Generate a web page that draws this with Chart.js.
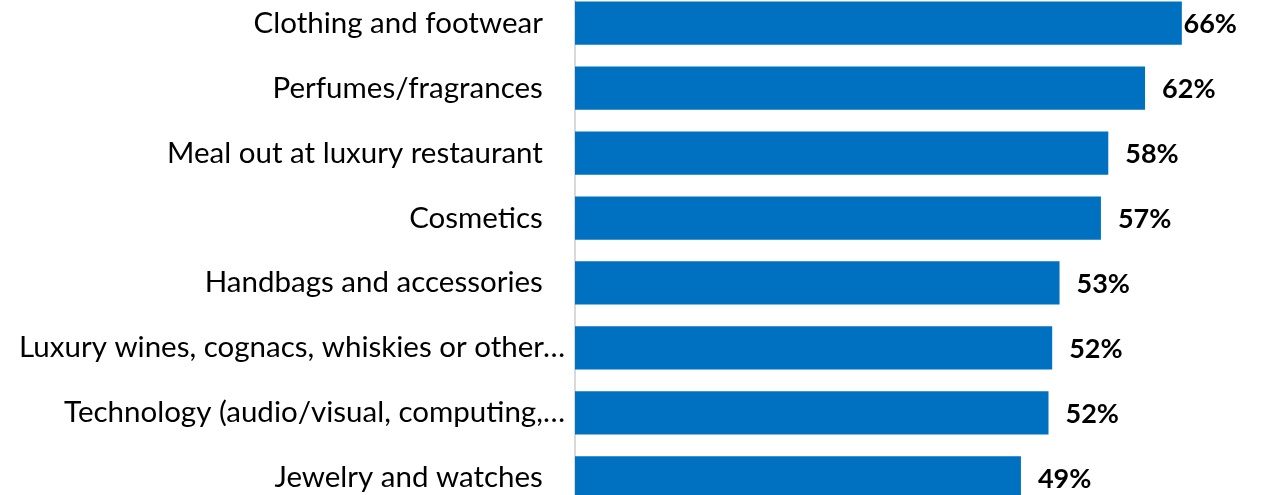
<!DOCTYPE html>
<html>
<head>
<meta charset="utf-8">
<script src="https://cdn.jsdelivr.net/npm/chart.js@4/dist/chart.umd.min.js"></script>
<style>
  html, body { margin: 0; padding: 0; background: #fff; overflow: hidden; }
  #wrap { position: absolute; left: 0; top: -37px; width: 1264px; height: 575px; }
</style>
</head>
<body>
<div id="wrap"><canvas id="c"></canvas></div>
<script>
const categories = [
  "Clothing and footwear",
  "Perfumes/fragrances",
  "Meal out at luxury restaurant",
  "Cosmetics",
  "Handbags and accessories",
  "Luxury wines, cognacs, whiskies or other…",
  "Technology (audio/visual, computing,…",
  "Jewelry and watches"
];
const values = [66, 62, 58, 57.2, 52.7, 51.9, 51.5, 48.5];
const valueLabels = ["66%", "62%", "58%", "57%", "53%", "52%", "52%", "49%"];

const valueLabelPlugin = {
  id: 'valueLabels',
  afterDatasetsDraw(chart) {
    const ctx = chart.ctx;
    const meta = chart.getDatasetMeta(0);
    ctx.save();
    ctx.font = 'bold 27px Lato';
    ctx.fillStyle = '#000';
    ctx.textBaseline = 'middle';
    ctx.textAlign = 'left';
    meta.data.forEach((bar, i) => {
      const t = valueLabels[i];
      const w = ctx.measureText(t).width;
      let x = bar.x + 17;
      const maxRight = chart.chartArea.right;
      if (x + w > maxRight) x = Math.max(bar.x + 1, maxRight - w);
      ctx.fillText(t, x, bar.y + 1);
    });
    ctx.restore();
  }
};

new Chart(document.getElementById('c'), {
  type: 'bar',
  data: {
    labels: categories,
    datasets: [{
      data: values,
      backgroundColor: '#0070C0',
      borderWidth: 0,
      categoryPercentage: 1,
      barPercentage: 0.666
    }]
  },
  options: {
    indexAxis: 'y',
    responsive: true,
    maintainAspectRatio: false,
    animation: false,
    layout: { padding: { left: 0, right: 27, top: 0, bottom: 0 } },
    plugins: { legend: { display: false }, tooltip: { enabled: false } },
    scales: {
      x: {
        display: false,
        min: 0,
        max: 72
      },
      y: {
        afterFit(scale) { scale.width = 575; },
        grid: { display: false, drawTicks: false },
        border: { display: true, color: '#d9d9d9', width: 2 },
        ticks: {
          color: '#000',
          padding: 10,
          font: { family: 'Lato', size: 29.5 },
          callback(v, i) {
            const l = categories[i];
            return l.endsWith('…') ? l : l + '\u2003';
          }
        }
      }
    }
  },
  plugins: [valueLabelPlugin]
});
</script>
</body>
</html>
